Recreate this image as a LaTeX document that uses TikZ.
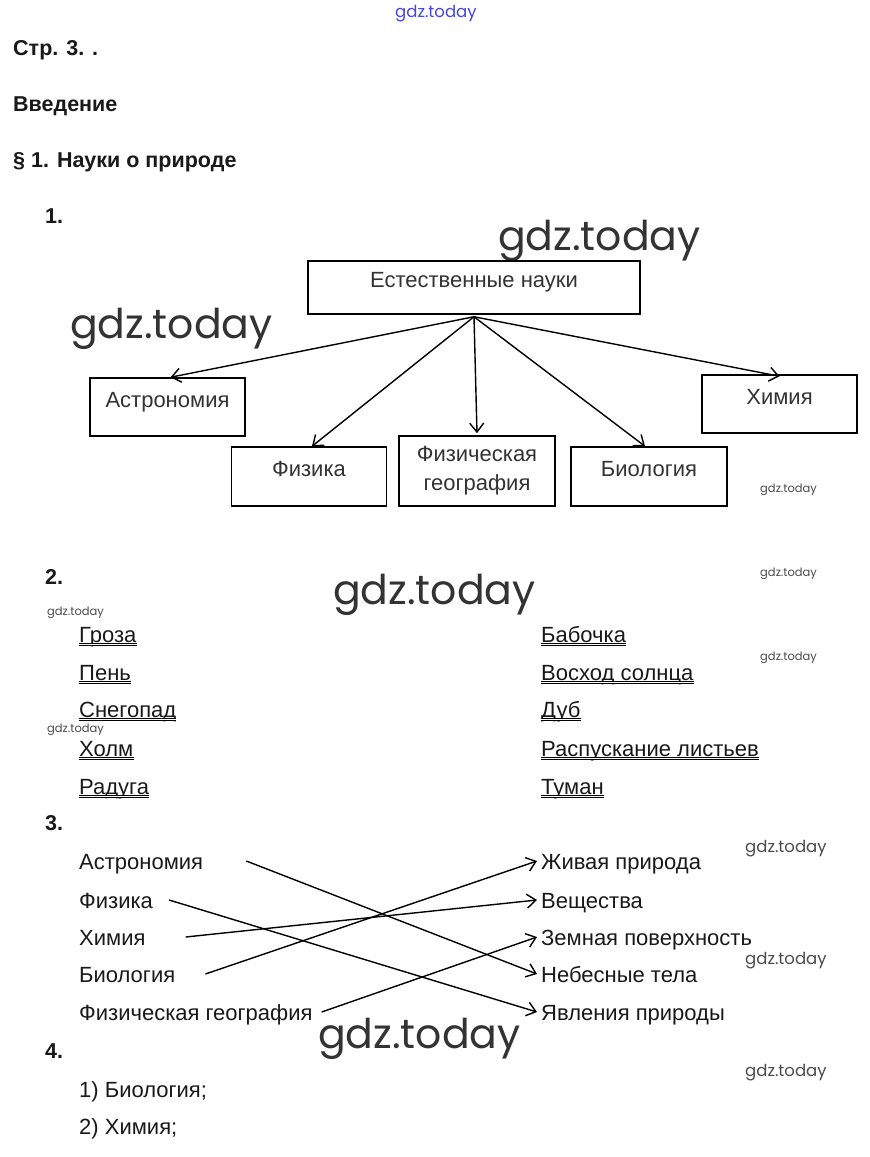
\documentclass[tikz,border=0pt]{standalone}
\usepackage{fontspec}
\setmainfont{Liberation Sans}
\newfontfamily\wmfont{Poppins}
\usetikzlibrary{arrows.meta}
\definecolor{wmblue}{RGB}{70,70,220}
\tikzset{
  sci/.style={draw, line width=1.5pt, minimum width=155pt, minimum height=58pt, inner sep=0pt, text=black!80, font=\fontsize{22}{29}\selectfont},
  sciline/.style={sci, text height=29pt, text depth=29pt},
  arr/.style={line width=1.4pt, -{Straight Barb[length=9pt,width=14pt]}},
  head/.style={anchor=base west, inner sep=0pt, font=\bfseries\fontsize{21.5}{24}\selectfont, text=black!90},
  item/.style={anchor=base west, inner sep=0pt, text height=16pt, text depth=0pt, font=\fontsize{22}{24}\selectfont, text=black!90},
  uline/.style={line width=0.7pt, double, double distance=1.2pt},
  wmbig/.style={anchor=base west, inner sep=0pt, font=\wmfont\fontsize{41}{41}\selectfont, text=black!80},
  wmsmall/.style={anchor=base west, inner sep=0pt, font=\wmfont\fontsize{11.5}{12}\selectfont, text=black!70},
  wmmid/.style={wmsmall, font=\wmfont\fontsize{16.5}{17}\selectfont}
}
\def\dunder(#1){\draw[uline] ([yshift=-2.5pt]#1.base west) -- ([yshift=-2.5pt]#1.base east);}

\begin{document}
\begin{tikzpicture}[x=1pt, y=-1pt]
	%%%%% PAGE %%%%%
	\useasboundingbox[fill=white] (0, 0) rectangle (870, 1157);
	
	\node[wmmid, text=wmblue] (wm0) at (395, 17) {gdz.today};
	
	\node[head] (h0) at (13, 55) {Стр. 3. .};
	\node[head] (h1) at (13, 111) {Введение};
	\node[head] (h2) at (13, 167) {§ 1. Науки о природе};
	
	%%%%% 1 %%%%%
	\node[head] (n1) at (45, 223) {1.};
	\node[wmbig] (wm1) at (498, 250) {gdz.today};
	\node[wmbig] (wm2) at (70, 338) {gdz.today};
	
	\node[sciline, minimum width=332pt, minimum height=53pt, text height=26.5pt, text depth=26.5pt] (nat) at (474, 287.5) {Естественные науки};
	\node[sciline] (astr) at (167.5, 407) {Астрономия};
	\node[sciline] (chem) at (779.5, 404) {Химия};
	\node[sciline, minimum height=59pt, text height=29.5pt, text depth=29.5pt] (phys) at (309, 476.5) {Физика};
	\node[sci, minimum width=156pt, minimum height=70pt, align=center] (geo) at (477, 471) {Физическая\\география};
	\node[sciline, minimum width=156pt, minimum height=59pt, text height=29.5pt, text depth=29.5pt] (bio) at (649, 476.5) {Биология};
	
	\coordinate (root) at ([yshift=-2pt]nat.south);
	\draw[arr] (root) -- ([xshift=3pt]astr.north);
	\draw[arr] (root) -- ([xshift=3pt]phys.north);
	\draw[arr] (root) -- ([yshift=2pt]geo.north);
	\draw[arr] (root) -- ([xshift=-4pt]bio.north);
	\draw[arr] (root) -- ([yshift=-2pt]chem.north);
	
	\node[wmsmall] (wm3) at (760, 492) {gdz.today};
	
	%%%%% 2 %%%%%
	\node[head] (n2) at (45, 584) {2.};
	\node[wmbig] (wm4) at (333, 604) {gdz.today};
	\node[wmsmall] (wm5) at (760, 576) {gdz.today};
	\node[wmsmall] (wm6) at (47, 615) {gdz.today};
	\node[wmsmall] (wm7) at (760, 660) {gdz.today};
	\node[wmsmall] (wm8) at (47, 732) {gdz.today};
	
	\node[item] (p1) at (79, 642) {Гроза};
	\node[item] (p2) at (79, 680) {Пень};
	\node[item] (p3) at (79, 717) {Снегопад};
	\node[item] (p4) at (79, 756) {Холм};
	\node[item] (p5) at (79, 794) {Радуга};
	
	\node[item] (q1) at (541, 642) {Бабочка};
	\node[item] (q2) at (541, 680) {Восход солнца};
	\node[item] (q3) at (541, 717) {Дуб};
	\node[item] (q4) at (541, 756) {Распускание листьев};
	\node[item] (q5) at (541, 794) {Туман};
	
	\dunder(p1) \dunder(p2) \dunder(p3) \dunder(p4) \dunder(p5)
	\dunder(q1) \dunder(q2) \dunder(q3) \dunder(q4) \dunder(q5)
	
	%%%%% 3 %%%%%
	\node[head] (n3) at (45, 830) {3.};
	\node[wmmid] (wm9) at (745, 852) {gdz.today};
	\node[wmmid] (wm10) at (745, 964) {gdz.today};
	
	\node[item] (s1) at (79, 869) {Астрономия};
	\node[item] (s2) at (79, 908) {Физика};
	\node[item] (s3) at (79, 945) {Химия};
	\node[item] (s4) at (79, 982) {Биология};
	\node[item] (s5) at (79, 1020) {Физическая география};
	
	\node[item] (t1) at (541, 869) {Живая природа};
	\node[item] (t2) at (541, 908) {Вещества};
	\node[item] (t3) at (541, 945) {Земная поверхность};
	\node[item] (t4) at (541, 982) {Небесные тела};
	\node[item] (t5) at (541, 1020) {Явления природы};
	
	\draw[arr] ([xshift=43pt]s1.east) -- ([xshift=-4pt]t4.west);
	\draw[arr] ([xshift=16pt]s2.east) -- ([xshift=-4pt]t5.west);
	\draw[arr] ([xshift=40pt]s3.east) -- ([xshift=-4pt]t2.west);
	\draw[arr] ([xshift=30pt]s4.east) -- ([xshift=-4pt]t1.west);
	\draw[arr] ([xshift=9pt]s5.east) -- ([xshift=-4pt]t3.west);
	
	\node[wmbig] (wm11) at (318, 1048) {gdz.today};
	
	%%%%% 4 %%%%%
	\node[head] (n4) at (45, 1058) {4.};
	\node[wmmid] (wm12) at (745, 1076) {gdz.today};
	\node[item] (r1) at (79, 1097) {1) Биология;};
	\node[item] (r2) at (79, 1134) {2) Химия;};
	
\end{tikzpicture}
\end{document}
